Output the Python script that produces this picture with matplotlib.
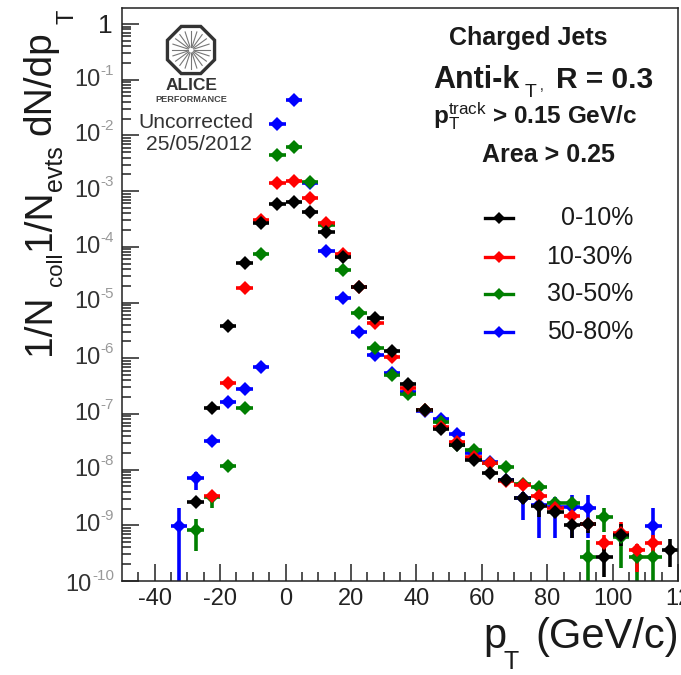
#!/usr/bin/env python3
import matplotlib

matplotlib.use("Agg")
import matplotlib.pyplot as plt
import numpy as np
from matplotlib.patches import RegularPolygon
from matplotlib.ticker import FixedLocator, LogLocator, NullFormatter

nan = float("nan")

bin_centers = [-32.5, -27.5, -22.5, -17.5, -12.5, -7.5, -2.5, 2.5, 7.5, 12.5, 17.5,
               22.5, 27.5, 32.5, 37.5, 42.5, 47.5, 52.5, 57.5, 62.5, 67.5, 72.5,
               77.5, 82.5, 87.5, 92.5, 97.5, 102.5, 107.5, 112.5, 117.5]

# log10 of the yield
log_black = [nan, -8.58, -6.89, -5.42, -4.29, -3.57, -3.23, -3.20, -3.38, -3.73, -4.18,
             -4.72, -5.28, -5.87, -6.46, -6.93, -7.27, -7.56, -7.83, -8.06, -8.19, -8.51,
             -8.65, -8.76, -8.99, -8.98, -9.57, -9.17, nan, nan, -9.44]
log_red = [nan, nan, -8.47, -6.45, -4.74, -3.52, -2.85, -2.82, -3.12, -3.57, -4.13,
           -4.72, -5.37, -5.98, -6.54, -6.93, -7.24, -7.50, -7.77, -7.88, -8.20, -8.28,
           -8.47, -8.69, -8.83, -8.98, -9.32, -9.14, -9.44, -9.32, nan]
log_green = [nan, -9.08, -8.49, -7.94, -6.89, -4.13, -2.35, -2.21, -2.84, -3.61, -4.42,
             -5.19, -5.82, -6.30, -6.64, -6.93, -7.15, -7.56, -7.65, -7.88, -7.95, -8.26,
             -8.31, -8.60, -8.60, -9.57, -8.85, -9.21, -9.57, -9.57, nan]
log_blue = [-9.01, -8.15, -7.49, -6.79, -6.55, -6.16, -1.80, -1.36, -2.85, -4.08, -4.92,
            -5.53, -5.94, -6.27, -6.61, -6.95, -7.09, -7.36, -7.70, -7.86, -8.19, -8.51,
            -8.64, -8.67, -8.67, -8.69, nan, nan, nan, -9.01, nan]

# visible error bars: bin centre -> (decades up, decades down)
err_black = {72.5: (0.1, 0.1), 77.5: (0.1, 0.2), 87.5: (0.1, 0.23), 92.5: (0.1, 0.15),
             97.5: (0.25, 0.36), 102.5: (0.2, 0.2), 117.5: (0.2, 0.3)}
err_red = {97.5: (0.15, 0.15), 102.5: (0.2, 0.15), 107.5: (0.1, 0.4), 112.5: (0.15, 0.25)}
err_green = {-27.5: (0.2, 0.38), -22.5: (0.0, 0.2), 92.5: (0.3, 3.0), 97.5: (0.16, 0.27),
             102.5: (0.18, 0.56), 107.5: (0.12, 3.0), 112.5: (0.2, 3.0)}
err_blue = {-32.5: (0.32, 3.0), -27.5: (0.11, 0.22), 72.5: (0.05, 0.4), 77.5: (0.1, 0.59),
            82.5: (0.18, 0.56), 87.5: (0.22, 0.56), 92.5: (0.23, 0.54), 112.5: (0.32, 0.31)}

series_names = ["0-10%", "10-30%", "30-50%", "50-80%"]
x_ticks = [-40, -20, 0, 20, 40, 60, 80, 100, 120]
x_tick_labels = ["-40", "-20", "0", "20", "40", "60", "80", "100", "12"]

FONT = "Liberation Sans"
plt.rcParams["font.family"] = [FONT, "DejaVu Sans"]
plt.rcParams["mathtext.fontset"] = "custom"
plt.rcParams["mathtext.rm"] = FONT
plt.rcParams["mathtext.it"] = FONT
plt.rcParams["mathtext.bf"] = FONT + ":bold"
plt.rcParams["mathtext.default"] = "rm"

W, H = 681, 675
INK = "#1a1a1a"


def px(x, y):
    # figure fraction from reference pixels
    return x / W, 1 - y / H


def put(x, y, text, **kwargs):
    kwargs.setdefault("color", INK)
    kwargs.setdefault("ha", "left")
    kwargs.setdefault("va", "baseline")
    return fig.text(*px(x, y), text, **kwargs)


def put_up(x, y, text, size):
    # rotated text whose start sits at (x, y) on its baseline
    put(x, y, text, fontsize=size, rotation=90, rotation_mode="anchor")


def draw_series(ax, log_vals, errs, color):
    x = np.array(bin_centers)
    logs = np.array(log_vals)
    up = np.array([errs.get(c, (0, 0))[0] for c in bin_centers])
    down = np.array([errs.get(c, (0, 0))[1] for c in bin_centers])
    y = 10.0**logs
    yerr = [y - 10.0 ** (logs - down), 10.0 ** (logs + up) - y]
    ax.errorbar(x, y, xerr=2.5, yerr=yerr, fmt="D", color=color, ms=7, mew=0,
                elinewidth=2.6, capsize=0)


def draw_logo(ax):
    ax.add_patch(RegularPolygon((191, 50), 8, radius=25.5, orientation=np.pi / 8,
                                fill=False, ec="#333333", lw=2.4))
    for a in np.arange(0, 2 * np.pi, np.pi / 10):
        ax.plot([191 + 3 * np.cos(a), 191 + 19 * np.cos(a)],
                [50 + 3 * np.sin(a), 50 + 19 * np.sin(a)], color="#777777", lw=0.8)
    ax.text(191, 85.5, "ALICE", ha="center", va="center", fontsize=12.5,
            fontweight="bold", color="#333333")
    ax.text(191, 100, "PERFORMANCE", ha="center", va="center", fontsize=6.6,
            fontweight="bold", color="#444444")


fig = plt.figure(figsize=(W / 100, H / 100), dpi=100)
ax = fig.add_axes([122 / W, 1 - 581 / H, (678 - 122) / W, (581 - 8) / H])

draw_series(ax, log_blue, err_blue, "#0000ff")
draw_series(ax, log_green, err_green, "#007f00")
draw_series(ax, log_red, err_red, "#ff0000")
draw_series(ax, log_black, err_black, "#000000")

ax.set_yscale("log")
ax.set_xlim(-50, 120)
ax.set_ylim(1e-10, 1.94)
ax.set_xticks(x_ticks)
ax.set_xticklabels(x_tick_labels, fontsize=17, color="#222222")
ax.xaxis.set_minor_locator(FixedLocator(np.arange(-45, 120, 5)))
ax.yaxis.set_major_locator(LogLocator(base=10, numticks=12))
ax.yaxis.set_minor_locator(LogLocator(base=10, subs=np.arange(2, 10), numticks=12))
ax.yaxis.set_minor_formatter(NullFormatter())
ax.set_yticks([10.0**-k for k in range(11)])
ax.set_yticklabels([])
ax.tick_params(axis="both", which="major", direction="in", length=12.5, width=1.1,
               color="#222222", top=False, right=False, pad=5)
ax.tick_params(axis="both", which="minor", direction="in", length=6.2, width=1.1,
               color="#222222", top=False, right=False)
for spine in ax.spines.values():
    spine.set_linewidth(1.1)
    spine.set_color("#222222")

# y tick labels, placed by hand to keep the small grey exponents
for k in range(11):
    ytick = 24 + k * 55.7
    if k == 0:
        put(113, 33, "1", ha="right", fontsize=19, color="#222222")
    elif k == 10:
        put(91, ytick + 10, "10", ha="right", fontsize=17, color="#333333")
        put(92, ytick - 1, "-10", fontsize=11, color="#999999")
    else:
        put(100, ytick + 6, "10", ha="right", fontsize=17, color="#333333")
        put(100, ytick - 5, f"-{k}", fontsize=11, color="#999999")

# y axis title in pieces, the subscripts sit far below the line in the original
put_up(50, 355, "1/N", 28)
put_up(62, 286, "coll", 16)
put_up(50, 250, "1/N", 28)
put_up(62, 191, "evts", 18)
put_up(50, 135, "dN/dp", 28)
put_up(73, 24, "T", 17)

# x axis title
put(483, 648, "p", fontsize=30)
put(504, 669, "T", fontsize=18)
put(535, 648, "(GeV/c)", fontsize=30)

put(449, 45, "Charged Jets", fontsize=18, fontweight="bold")
put(433, 88, "Anti-k", fontsize=22, fontweight="bold")
put(525, 97, "T", fontsize=14)
put(540, 90, ",", fontsize=10)
put(556, 88, "R = 0.3", fontsize=21.5, fontweight="bold")
put(433, 123, r"$\mathbf{p}_{\mathrm{T}}^{\mathrm{track}}$ > 0.15 GeV/c", fontsize=17.5,
    fontweight="bold")
put(482, 162, "Area > 0.25", fontsize=18, fontweight="bold")

overlay = fig.add_axes([0, 0, 1, 1], facecolor="none")
overlay.set_xlim(0, W)
overlay.set_ylim(H, 0)
overlay.axis("off")
for name, color, yrow in zip(series_names, ["#000000", "#ff0000", "#007f00", "#0000ff"],
                             [218, 257, 294, 332]):
    overlay.plot([485, 513], [yrow, yrow], color=color, lw=2.4)
    overlay.plot([499], [yrow], "D", color=color, ms=6, mew=0)
    put(633, yrow + 7, name, ha="right", fontsize=18)

draw_logo(overlay)
put(196, 122, "Uncorrected", ha="center", va="center", fontsize=15.2, color="#333333")
put(199, 145, "25/05/2012", ha="center", va="center", fontsize=15.2, color="#333333")

fig.savefig("out.png", dpi=100)
